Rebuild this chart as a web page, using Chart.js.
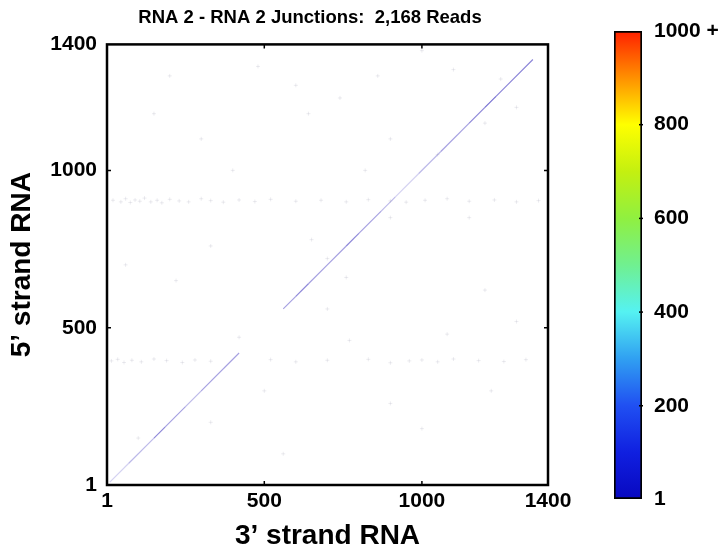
<!DOCTYPE html>
<html>
<head>
<meta charset="utf-8">
<script src="https://cdn.jsdelivr.net/npm/chart.js@4.4.0/dist/chart.umd.min.js"></script>
<style>
  body { margin: 0; background: #fff; }
  #wrap { position: relative; width: 727px; height: 553px; }
  #mainChart { position: absolute; left: 0; top: 0; }
  #barChart { position: absolute; left: 560px; top: 0; }
</style>
</head>
<body>
<div id="wrap">
  <canvas id="mainChart" width="620" height="553"></canvas>
  <canvas id="barChart" width="167" height="553"></canvas>
</div>
<script>
const titleText = 'RNA 2 - RNA 2 Junctions:  2,168 Reads';
const xTicks = [1, 500, 1000, 1400];
const yTicks = [1, 500, 1000, 1400];
const colorTicks = [1, 200, 400, 600, 800, 1000];

// positions along the diagonal (5' = 3') and reads of the segment that starts there
const diagPos = [10, 70, 150, 185, 215, 250, 300, 420, 560, 600, 640, 700, 760, 800, 870, 915, 990, 1060, 1150, 1200, 1235, 1270, 1352];
const diagReads = [1, 2, 4, 3, 3, 2, 3, 0, 3, 4, 3, 3, 4, 3, 2, 1, 2, 3, 4, 5, 4, 4];

// scattered single junctions off the diagonal
const speckX = [20, 45, 60, 75, 90, 105, 120, 140, 160, 175, 200, 230, 260, 300, 330, 370, 420, 470, 520, 600, 680, 760, 830, 900, 950, 1010, 1080, 1150, 1230, 1300, 1370,
  15, 35, 55, 80, 110, 150, 190, 240, 280, 330, 520, 600, 700, 830, 900, 960, 1000, 1050, 1100, 1180, 1260, 1330,
  200, 480, 600, 640, 740, 860, 1000, 1100, 1250, 1300, 1200, 150, 300, 900, 1050, 220, 330, 700, 760, 700, 1200, 1080, 1300, 500, 560, 900, 1000, 1220, 330, 100, 420, 770, 650, 900, 1150, 60, 400, 820];
const speckY = [905, 900, 910, 898, 906, 902, 912, 900, 905, 897, 908, 903, 900, 910, 904, 899, 906, 901, 908, 902, 905, 900, 907, 903, 899, 905, 910, 902, 906, 900, 904,
  395, 400, 390, 397, 392, 401, 396, 390, 398, 394, 399, 392, 397, 400, 389, 395, 398, 392, 401, 396, 393, 399,
  1300, 1330, 1270, 1180, 1230, 1300, 1380, 1320, 1290, 1200, 1150, 1180, 1100, 1100, 1050, 650, 760, 720, 660, 560, 620, 480, 520, 300, 100, 260, 180, 300, 200, 150, 470, 460, 780, 850, 850, 700, 1000, 1000];

const diagData = diagPos.map(p => ({ x: p, y: p }));
const speckData = speckX.map((x, i) => ({ x: x, y: speckY[i] }));

const boldFont = (size) => ({ family: "'Liberation Sans', Arial, Helvetica, sans-serif", size: size, weight: 'bold' });

const frame = {
  id: 'frame',
  afterDraw(chart) {
    const { ctx, chartArea: a, scales } = chart;
    ctx.save();
    ctx.strokeStyle = '#000';
    ctx.lineWidth = 1.5;
    [500, 1000].forEach(v => {
      const px = scales.x.getPixelForValue(v);
      const py = scales.y.getPixelForValue(v);
      ctx.beginPath();
      ctx.moveTo(px, a.bottom); ctx.lineTo(px, a.bottom - 4);
      ctx.moveTo(px, a.top); ctx.lineTo(px, a.top + 4);
      ctx.moveTo(a.left, py); ctx.lineTo(a.left + 4, py);
      ctx.moveTo(a.right, py); ctx.lineTo(a.right - 4, py);
      ctx.stroke();
    });
    ctx.lineWidth = 2.5;
    ctx.strokeRect(a.left, a.top, a.right - a.left, a.bottom - a.top);
    ctx.restore();
  }
};

new Chart(document.getElementById('mainChart'), {
  type: 'scatter',
  data: {
    datasets: [
      {
        data: speckData,
        pointStyle: 'cross',
        pointRadius: 2,
        pointBorderWidth: 1,
        pointBorderColor: 'rgba(150,150,170,0.18)',
        pointBackgroundColor: 'rgba(150,150,170,0.18)'
      },
      {
        data: diagData,
        showLine: true,
        pointRadius: 0,
        borderWidth: 1.2,
        borderColor: 'rgba(60,50,190,0.5)',
        segment: {
          borderColor: (c) => {
            const r = diagReads[c.p0DataIndex];
            if (!r) return 'rgba(0,0,0,0)';
            return 'rgba(60,50,190,' + Math.min(0.1 + r * 0.12, 0.8) + ')';
          }
        }
      }
    ]
  },
  options: {
    responsive: false,
    animation: false,
    devicePixelRatio: 1,
    layout: { padding: 0 },
    plugins: {
      legend: { display: false },
      tooltip: { enabled: false },
      title: {
        display: true,
        text: titleText,
        color: '#000',
        font: boldFont(18.5),
        padding: { top: 7, bottom: 15.2 }
      }
    },
    scales: {
      x: {
        type: 'linear',
        min: 1,
        max: 1400,
        afterBuildTicks: (s) => { s.ticks = xTicks.map(v => ({ value: v })); },
        afterFit: (s) => { s.height = 68; },
        grid: { display: false, drawTicks: false },
        border: { display: false },
        ticks: { color: '#000', font: boldFont(21), padding: 4, maxRotation: 0, callback: (v) => String(v) },
        title: { display: true, text: '3\u2019 strand RNA', color: '#000', font: boldFont(28), padding: { top: 0, bottom: 0 } }
      },
      y: {
        type: 'linear',
        min: 1,
        max: 1400,
        afterBuildTicks: (s) => { s.ticks = yTicks.map(v => ({ value: v })); },
        afterFit: (s) => { s.width = 107; },
        grid: { display: false, drawTicks: false },
        border: { display: false },
        ticks: { color: '#000', font: boldFont(21), padding: 10, callback: (v) => String(v) },
        title: { display: true, text: '5\u2019 strand RNA', color: '#000', font: boldFont(28), padding: { top: 5, bottom: 0 } }
      },
      // empty right-hand box so the plot ends at the same place as the reference
      yRight: {
        type: 'linear',
        position: 'right',
        display: true,
        afterFit: (s) => { s.width = 72; },
        grid: { display: false, drawTicks: false },
        border: { display: false },
        ticks: { display: false }
      }
    }
  },
  plugins: [frame]
});

const jetStops = [
  [0.0, '#0808c0'], [0.1, '#1020e0'], [0.2, '#2050f2'], [0.3, '#30a0f2'], [0.4, '#55f2f2'],
  [0.5, '#70f090'], [0.6, '#90f040'], [0.7, '#c4f010'], [0.8, '#ffff00'], [0.9, '#ff9000'], [1.0, '#ff2000']
];

const barTicks = {
  id: 'barTicks',
  afterDraw(chart) {
    const { ctx, chartArea: a, scales } = chart;
    ctx.save();
    ctx.strokeStyle = '#000';
    ctx.lineWidth = 1.5;
    colorTicks.slice(1, -1).forEach(v => {
      const py = scales.y.getPixelForValue(v);
      ctx.beginPath();
      ctx.moveTo(a.right + 1, py); ctx.lineTo(a.right - 3, py);
      ctx.stroke();
    });
    ctx.restore();
  }
};

new Chart(document.getElementById('barChart'), {
  type: 'bar',
  data: {
    labels: ['reads'],
    datasets: [{
      data: [[1, 1000]],
      barPercentage: 1,
      categoryPercentage: 1,
      borderColor: '#000',
      borderWidth: 2,
      borderSkipped: false,
      backgroundColor: (c) => {
        const a = c.chart.chartArea;
        if (!a) return '#00f';
        const g = c.chart.ctx.createLinearGradient(0, a.bottom, 0, a.top);
        jetStops.forEach(s => g.addColorStop(s[0], s[1]));
        return g;
      }
    }]
  },
  options: {
    responsive: false,
    animation: false,
    devicePixelRatio: 1,
    layout: { padding: { left: 54, right: 0, top: 31, bottom: 54 } },
    plugins: { legend: { display: false }, tooltip: { enabled: false } },
    scales: {
      x: { display: false },
      y: {
        type: 'linear',
        position: 'right',
        min: 1,
        max: 1000,
        afterBuildTicks: (s) => { s.ticks = colorTicks.map(v => ({ value: v })); },
        afterFit: (s) => { s.width = 85; },
        grid: { display: false, drawTicks: false },
        border: { display: false },
        ticks: {
          color: '#000',
          font: boldFont(21),
          padding: 12,
          callback: (v) => (v === 1000 ? '1000 +' : String(v))
        }
      }
    }
  },
  plugins: [barTicks]
});
</script>
</body>
</html>
